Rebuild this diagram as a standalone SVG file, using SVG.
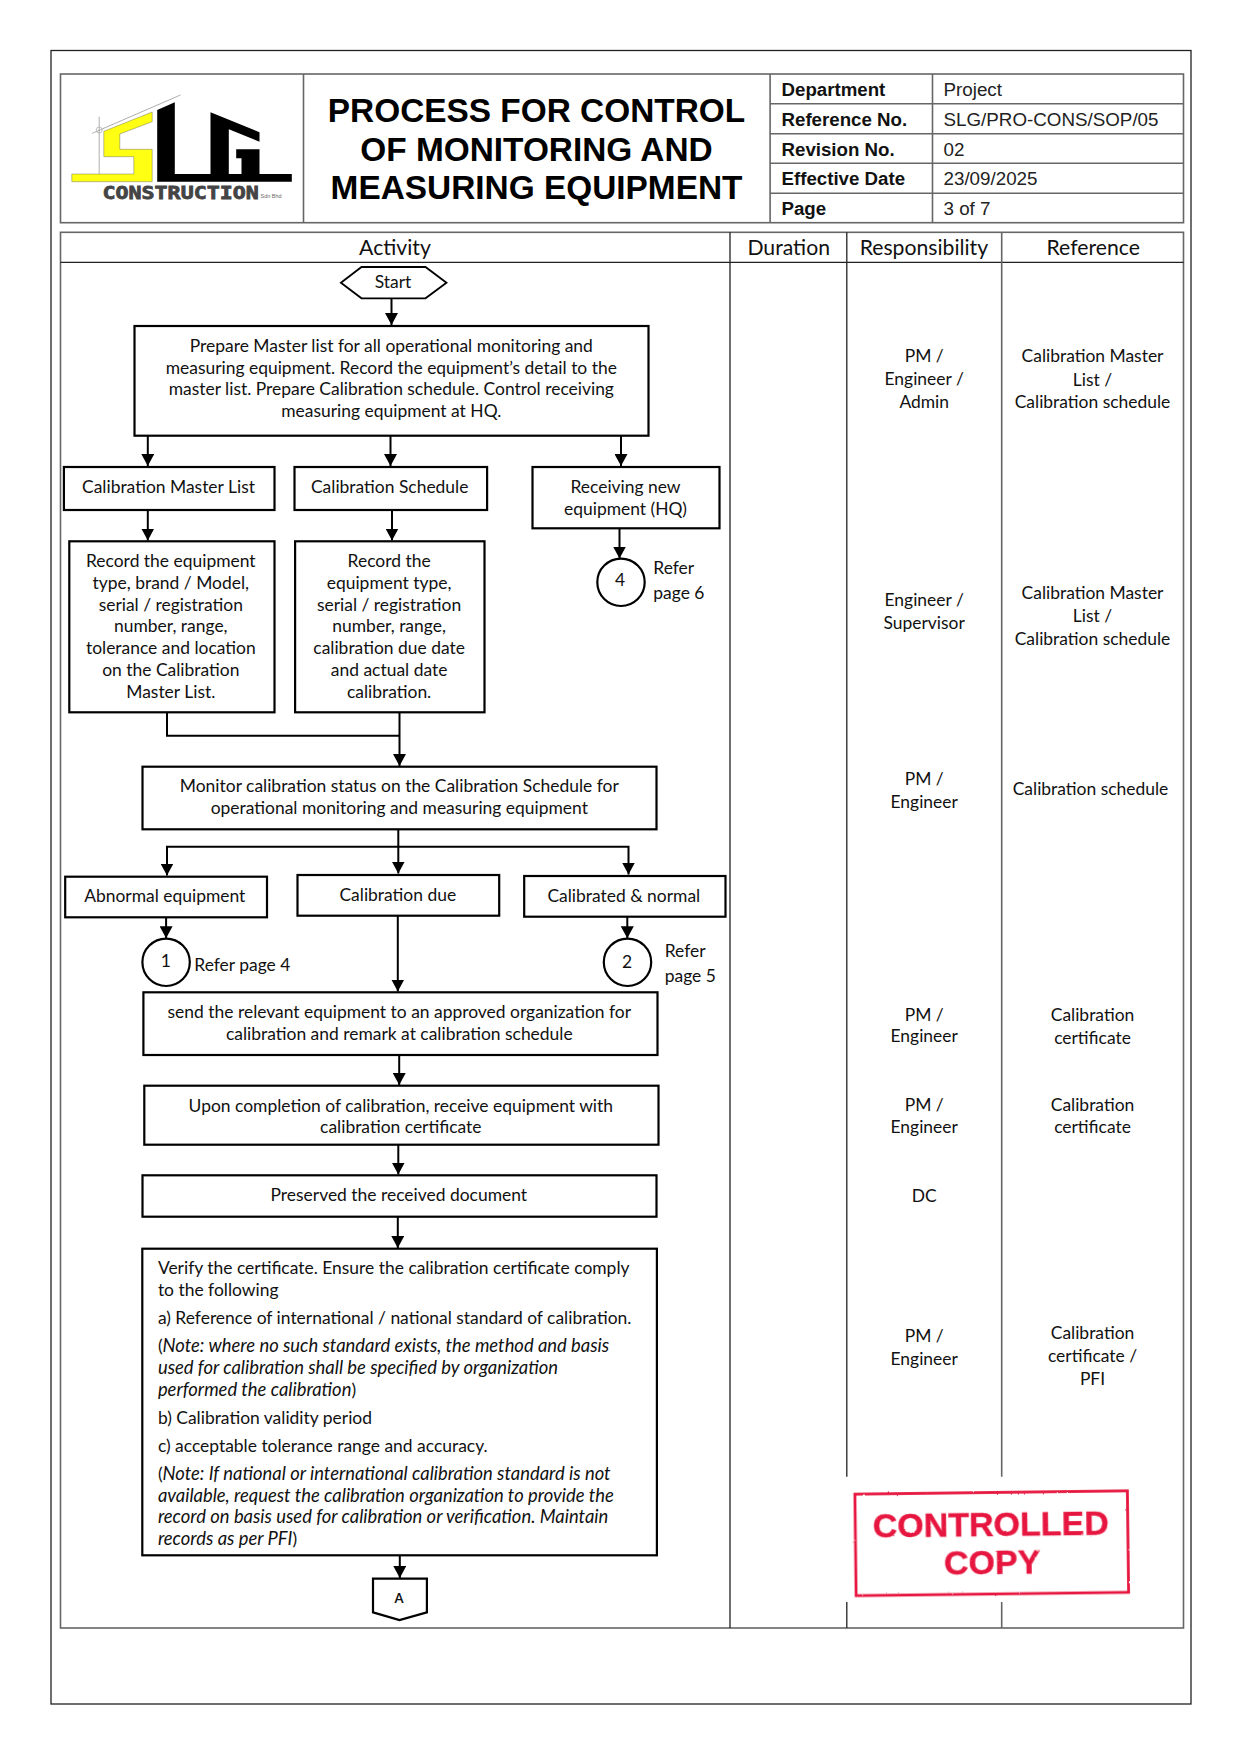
<svg xmlns="http://www.w3.org/2000/svg" width="1241" height="1755" viewBox="0 0 1241 1755">
<style>
text{font-family:Lato,"Liberation Sans",sans-serif;font-size:17.45px;fill:#111}
.m{text-anchor:middle}
.i{font-style:italic;font-size:18.4px}
.h{font-size:21.2px}
.a{font-family:"Liberation Sans",Arial,sans-serif}
.lb{font-size:18.7px;font-weight:700}
.lv{font-size:18.8px;fill:#222}
.t{font-size:33.4px;font-weight:700;text-anchor:middle;fill:#000}
.b{fill:#fff;stroke:#000;stroke-width:2.2}
.g{fill:none;stroke:#666;stroke-width:1.6}
.k{fill:none;stroke:#222;stroke-width:1.3}
.c{fill:none;stroke:#000;stroke-width:2}
.s{fill:#e6193f;font-size:34px;font-weight:700;text-anchor:middle;stroke:#e6193f;stroke-width:.4}
</style>
<defs>
<marker id="arr" markerUnits="userSpaceOnUse" markerWidth="14" markerHeight="13" refX="12" refY="6.5" orient="auto"><path d="M0,0L12,6.5L0,13z" fill="#000"/></marker>
<filter id="rough" x="-5%" y="-5%" width="110%" height="110%"><feTurbulence type="fractalNoise" baseFrequency="0.3" numOctaves="2" seed="4"/><feDisplacementMap in="SourceGraphic" scale="1.8"/></filter>
</defs>
<rect width="1241" height="1755" fill="#fff"/>
<g transform="translate(0.5 0)">
<g id="frame">
<rect class="k" x="50.5" y="50.5" width="1140" height="1653.5"/>
<rect class="g" x="60" y="74" width="1123" height="148.7"/>
<path class="g" d="M303,74V222.7M769.6,74V222.7M932,74V222.7M769.6,103.7H1183M769.6,133.7H1183M769.6,163.3H1183M769.6,193.3H1183"/>
<rect class="g" x="60" y="232.3" width="1123" height="1395.7"/>
<path class="k" d="M60,262.3H1183M729.5,232.3V1628M846.3,232.3V1476.7M846.3,1602V1628"/>
<path class="g" d="M1001.2,232.3V1476.7M1001.2,1602V1628"/>
</g>
<g id="logo">
<path d="M151.7,112L103.3,131.3V156.7H133.3V174H71.3V181.7H151.7V149.3H119.3V134L151.7,121.7z" fill="#ffff14" stroke="#555" stroke-width=".4"/>
<path d="M156.7,110L174.3,102.3V174H291.3V181.7H156.7zM210,112.3L259,132.3V141.7L228.3,129.3V174H210zM235.7,149.3H259V174H241V158.3H235.7z" fill="#000"/>
<path d="M98.7,116.7V174M91.7,133.3L180,95" fill="none" stroke="#999" stroke-width=".8"/>
<circle cx="98.7" cy="130" r="3" fill="none" stroke="#aaa" stroke-width=".7"/>
<text x="102" y="199.3" textLength="156.3" lengthAdjust="spacingAndGlyphs" style="font-family:'DejaVu Sans Mono',monospace;font-weight:700;font-size:18.5px;fill:#444;stroke:#444;stroke-width:.8">CONSTRUCTION</text>
<text x="260" y="198" textLength="21" lengthAdjust="spacingAndGlyphs" class="a" style="font-size:5.5px;fill:#666">Sdn Bhd</text>
</g>
<g id="title">
<text class="a t" x="536" y="121.7">PROCESS FOR CONTROL</text>
<text class="a t" x="536" y="160.7">OF MONITORING AND</text>
<text class="a t" x="536" y="199.3">MEASURING EQUIPMENT</text>
</g>
<g id="doc-info">
<text class="a lb" x="781" y="95.7">Department</text><text class="a lv" x="943" y="95.7">Project</text>
<text class="a lb" x="781" y="126">Reference No.</text><text class="a lv" x="943" y="126">SLG/PRO-CONS/SOP/05</text>
<text class="a lb" x="781" y="155.5">Revision No.</text><text class="a lv" x="943" y="155.5">02</text>
<text class="a lb" x="781" y="185">Effective Date</text><text class="a lv" x="943" y="185">23/09/2025</text>
<text class="a lb" x="781" y="215">Page</text><text class="a lv" x="943" y="215">3 of 7</text>
</g>
<g id="col-heads">
<text class="m h" x="394.5" y="255">Activity</text>
<text class="m h" x="788.2" y="255">Duration</text>
<text class="m h" x="923.4" y="255">Responsibility</text>
<text class="m h" x="1092.7" y="255">Reference</text>
</g>
<g id="connectors">
<path class="c" marker-end="url(#arr)" d="M391,298V325"/>
<path class="c" marker-end="url(#arr)" d="M147.3,436V466"/>
<path class="c" marker-end="url(#arr)" d="M390,436V466"/>
<path class="c" marker-end="url(#arr)" d="M620.5,436V466"/>
<path class="c" marker-end="url(#arr)" d="M147.3,510V540.5"/>
<path class="c" marker-end="url(#arr)" d="M391.5,510V540.5"/>
<path class="c" marker-end="url(#arr)" d="M619,528V558.5"/>
<path class="c" d="M166.5,712V735.7H399"/>
<path class="c" marker-end="url(#arr)" d="M399,712V766"/>
<path class="c" marker-end="url(#arr)" d="M397.8,829V873.5"/>
<path class="c" marker-end="url(#arr)" d="M397.8,846.7H166.5V875.5"/>
<path class="c" marker-end="url(#arr)" d="M397.8,846.7H628V874.5"/>
<path class="c" marker-end="url(#arr)" d="M165.6,917V938.3"/>
<path class="c" marker-end="url(#arr)" d="M626.8,917V938.3"/>
<path class="c" marker-end="url(#arr)" d="M397.3,916V991.5"/>
<path class="c" marker-end="url(#arr)" d="M398.7,1055V1085"/>
<path class="c" marker-end="url(#arr)" d="M397.8,1145V1174.5"/>
<path class="c" marker-end="url(#arr)" d="M397.3,1217V1248"/>
<path class="c" marker-end="url(#arr)" d="M399.3,1555V1578"/>
</g>
<g id="start"><path class="b" d="M361,267H425L446,282.7L425,298.3H361L340.4,282.7z" style="stroke-width:1.8"/><text class="m" x="392.5" y="288.3">Start</text></g>
<g id="prepare"><rect class="b" x="134" y="326" width="514" height="109.7"/>
<text class="m" x="390.8" y="352">Prepare Master list for all operational monitoring and</text>
<text class="m" x="390.8" y="374">measuring equipment. Record the equipment’s detail to the</text>
<text class="m" x="390.8" y="395.3">master list. Prepare Calibration schedule. Control receiving</text>
<text class="m" x="390.8" y="417">measuring equipment at HQ.</text></g>
<g id="cal-master"><rect class="b" x="63.4" y="467" width="210.6" height="43"/><text class="m" x="168" y="492.7">Calibration Master List</text></g>
<g id="cal-schedule"><rect class="b" x="294" y="467" width="192.6" height="43"/><text class="m" x="389.2" y="492.7">Calibration Schedule</text></g>
<g id="receiving"><rect class="b" x="532" y="467" width="187" height="61.3"/><text class="m" x="625" y="492.7">Receiving new</text><text class="m" x="625" y="515">equipment (HQ)</text></g>
<g id="record-1"><rect class="b" x="68.8" y="541.3" width="205.2" height="171"/>
<text class="m" x="170.3" y="567.3">Record the equipment</text>
<text class="m" x="170.3" y="589">type, brand / Model,</text>
<text class="m" x="170.3" y="611">serial / registration</text>
<text class="m" x="170.3" y="632">number, range,</text>
<text class="m" x="170.3" y="654">tolerance and location</text>
<text class="m" x="170.3" y="676">on the Calibration</text>
<text class="m" x="170.3" y="698">Master List.</text></g>
<g id="record-2"><rect class="b" x="294.6" y="541.3" width="189.4" height="171"/>
<text class="m" x="388.6" y="567.3">Record the</text>
<text class="m" x="388.6" y="589">equipment type,</text>
<text class="m" x="388.6" y="611">serial / registration</text>
<text class="m" x="388.6" y="632">number, range,</text>
<text class="m" x="388.6" y="654">calibration due date</text>
<text class="m" x="388.6" y="676">and actual date</text>
<text class="m" x="388.6" y="698">calibration.</text></g>
<g id="ref-4"><circle class="b" cx="620.5" cy="582.3" r="23.7"/><text class="m" x="619.5" y="586">4</text><text x="652.8" y="574">Refer</text><text x="652.8" y="599.3">page 6</text></g>
<g id="monitor"><rect class="b" x="142" y="766.7" width="514" height="62.6"/>
<text class="m" x="398.8" y="792">Monitor calibration status on the Calibration Schedule for</text>
<text class="m" x="398.8" y="814">operational monitoring and measuring equipment</text></g>
<g id="abnormal"><rect class="b" x="64.7" y="876.7" width="201.8" height="40.6"/><text class="m" x="164.3" y="902">Abnormal equipment</text></g>
<g id="due"><rect class="b" x="297" y="875" width="201.7" height="40.7"/><text class="m" x="397.3" y="901">Calibration due</text></g>
<g id="normal"><rect class="b" x="523.7" y="876" width="201.3" height="40.7"/><text class="m" x="623.3" y="902">Calibrated &amp; normal</text></g>
<g id="ref-1"><circle class="b" cx="165.6" cy="962.3" r="23.7"/><text class="m" x="165.2" y="967">1</text><text x="193.8" y="970.7">Refer page 4</text></g>
<g id="ref-2"><circle class="b" cx="627" cy="962.3" r="23.7"/><text class="m" x="626.5" y="968">2</text><text x="664.2" y="956.7">Refer</text><text x="664.2" y="981.5">page 5</text></g>
<g id="send"><rect class="b" x="142.9" y="992.3" width="514.1" height="62.7"/>
<text class="m" x="398.8" y="1018.3">send the relevant equipment to an approved organization for</text>
<text class="m" x="398.8" y="1040">calibration and remark at calibration schedule</text></g>
<g id="upon"><rect class="b" x="143.8" y="1085.7" width="514.2" height="59"/>
<text class="m" x="400.3" y="1112">Upon completion of calibration, receive equipment with</text>
<text class="m" x="400.3" y="1132.7">calibration certificate</text></g>
<g id="preserved"><rect class="b" x="142" y="1175.3" width="514" height="41.4"/><text class="m" x="398.3" y="1201">Preserved the received document</text></g>
<g id="verify"><rect class="b" x="141.8" y="1248.7" width="514.6" height="306.6"/>
<text x="157.4" y="1274">Verify the certificate. Ensure the calibration certificate comply</text>
<text x="157.4" y="1296">to the following</text>
<text x="157.4" y="1324">a) Reference of international / national standard of calibration.</text>
<text x="157.4" y="1351.7">(<tspan class="i">Note: where no such standard exists, the method and basis</tspan></text>
<text x="157.4" y="1374" class="i">used for calibration shall be specified by organization</text>
<text x="157.4" y="1395.7"><tspan class="i">performed the calibration</tspan>)</text>
<text x="157.4" y="1424">b) Calibration validity period</text>
<text x="157.4" y="1452">c) acceptable tolerance range and accuracy.</text>
<text x="157.4" y="1480">(<tspan class="i">Note: If national or international calibration standard is not</tspan></text>
<text x="157.4" y="1502" class="i">available, request the calibration organization to provide the</text>
<text x="157.4" y="1523" class="i">record on basis used for calibration or verification. Maintain</text>
<text x="157.4" y="1544.7"><tspan class="i">records as per PFI</tspan>)</text></g>
<g id="off-page"><path class="b" d="M372.5,1578.7H426.4V1612.3L399,1620L372.5,1612.3z"/><text class="m" x="398.5" y="1603" style="font-size:13px;font-weight:700">A</text></g>
<g id="responsibility">
<text class="m" x="923.7" y="362.3">PM /</text><text class="m" x="923.7" y="385">Engineer /</text><text class="m" x="923.7" y="408.3">Admin</text>
<text class="m" x="923.7" y="606.3">Engineer /</text><text class="m" x="923.7" y="629.3">Supervisor</text>
<text class="m" x="923.7" y="785.3">PM /</text><text class="m" x="923.7" y="808">Engineer</text>
<text class="m" x="923.7" y="1021">PM /</text><text class="m" x="923.7" y="1042">Engineer</text>
<text class="m" x="923.7" y="1111">PM /</text><text class="m" x="923.7" y="1133">Engineer</text>
<text class="m" x="923.7" y="1202">DC</text>
<text class="m" x="923.7" y="1342.3">PM /</text><text class="m" x="923.7" y="1365.3">Engineer</text>
</g>
<g id="reference">
<text class="m" x="1092" y="362.3">Calibration Master</text><text class="m" x="1092" y="385.7">List /</text><text class="m" x="1092" y="408.3">Calibration schedule</text>
<text class="m" x="1092" y="599.3">Calibration Master</text><text class="m" x="1092" y="622.3">List /</text><text class="m" x="1092" y="645">Calibration schedule</text>
<text class="m" x="1090" y="795">Calibration schedule</text>
<text class="m" x="1092" y="1021">Calibration</text><text class="m" x="1092" y="1043.7">certificate</text>
<text class="m" x="1092" y="1111">Calibration</text><text class="m" x="1092" y="1133">certificate</text>
<text class="m" x="1092" y="1339">Calibration</text><text class="m" x="1092" y="1362.3">certificate /</text><text class="m" x="1092" y="1385">PFI</text>
</g>
<g id="stamp" transform="rotate(-0.7 991 1543)" filter="url(#rough)">
<rect x="855" y="1492.5" width="272.5" height="101.5" fill="none" stroke="#e6193f" stroke-width="2.8"/>
<text class="a s" x="990.5" y="1535.5">CONTROLLED</text>
<text class="a s" x="991.5" y="1574">COPY</text>
</g>
</g>
</svg>
